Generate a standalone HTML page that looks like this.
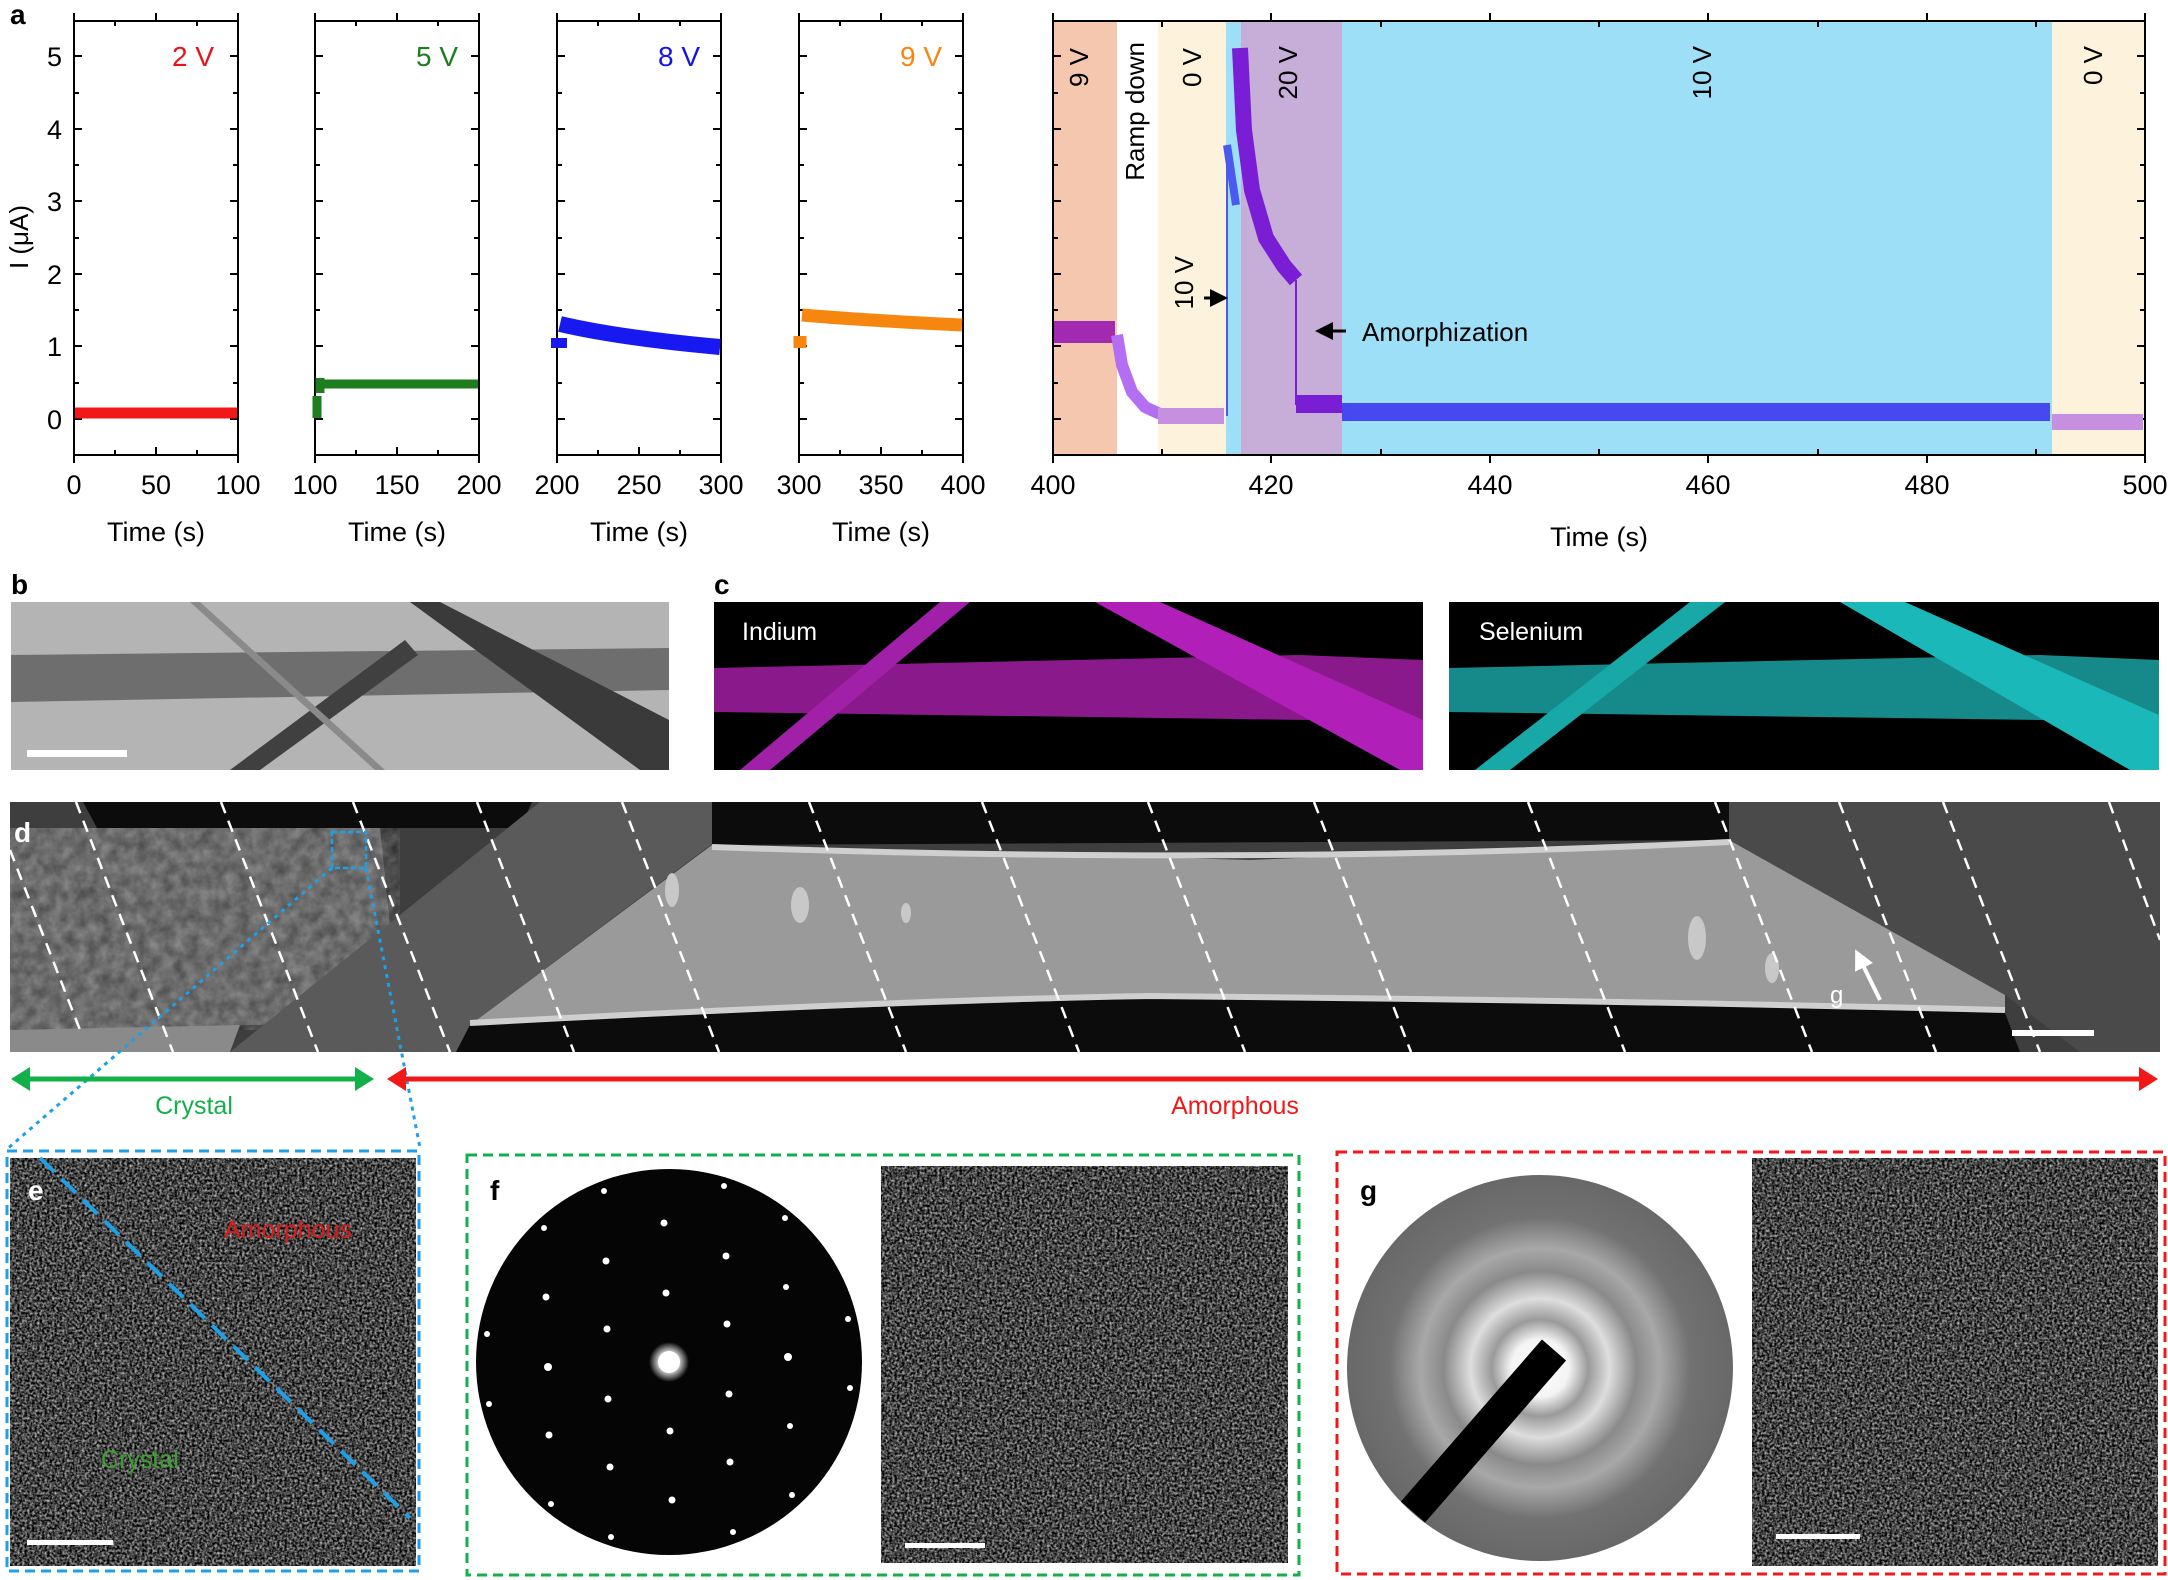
<!DOCTYPE html>
<html><head><meta charset="utf-8"><style>
html,body{margin:0;padding:0;background:#fff}
svg{display:block}
text{font-family:"Liberation Sans",Arial,sans-serif}
</style></head><body>
<svg width="2168" height="1580" viewBox="0 0 2168 1580" xmlns="http://www.w3.org/2000/svg">
<defs>
<filter id="grain" x="0" y="0" width="100%" height="100%" color-interpolation-filters="sRGB">
<feTurbulence type="fractalNoise" baseFrequency="0.4" numOctaves="2" seed="3"/>
<feColorMatrix type="matrix" values="1.3 0 0 0 -0.38  1.3 0 0 0 -0.38  1.3 0 0 0 -0.38  0 0 0 0 1"/>
</filter>
<filter id="grainL" x="0" y="0" width="100%" height="100%" color-interpolation-filters="sRGB">
<feTurbulence type="fractalNoise" baseFrequency="0.08" numOctaves="3" seed="9"/>
<feColorMatrix type="matrix" values="1.2 0 0 0 -0.15  1.2 0 0 0 -0.15  1.2 0 0 0 -0.15  0 0 0 0 1"/>
</filter>
<radialGradient id="ring" cx="0.5" cy="0.5" r="0.5">
<stop offset="0" stop-color="#fff"/><stop offset="0.15" stop-color="#f4f4f4"/>
<stop offset="0.25" stop-color="#9a9a9a"/><stop offset="0.36" stop-color="#dedede"/>
<stop offset="0.5" stop-color="#8a8a8a"/><stop offset="0.62" stop-color="#a8a8a8"/>
<stop offset="0.78" stop-color="#727272"/><stop offset="1" stop-color="#686868"/>
</radialGradient>
<radialGradient id="spot" cx="0.5" cy="0.5" r="0.5">
<stop offset="0.4" stop-color="#fff"/><stop offset="1" stop-color="#fff" stop-opacity="0"/>
</radialGradient>
<marker id="ah" markerWidth="6" markerHeight="6" refX="5" refY="3" orient="auto" markerUnits="strokeWidth"><path d="M0,0 L6,3 L0,6 z" fill="#000"/></marker>
<marker id="ahw" markerWidth="5" markerHeight="5" refX="4" refY="2.5" orient="auto" markerUnits="strokeWidth"><path d="M0,0 L5,2.5 L0,5 z" fill="#fff"/></marker>
</defs>

<text x="10" y="24" font-size="28" font-weight="bold">a</text>
<text transform="translate(28,237) rotate(-90)" font-size="26" text-anchor="middle">I (μA)</text>

<g font-size="27" text-anchor="end">
<text x="62" y="429">0</text><text x="62" y="356">1</text><text x="62" y="284">2</text>
<text x="62" y="211">3</text><text x="62" y="139">4</text><text x="62" y="66">5</text>
</g>

<g stroke="#000" stroke-width="2" fill="none">
<rect x="74" y="21" width="164" height="434"/>
<rect x="315" y="21" width="164" height="434"/>
<rect x="557" y="21" width="164" height="434"/>
<rect x="799" y="21" width="164" height="434"/>
</g>
<g stroke="#000" stroke-width="2">
<path d="M74,419h8M74,346h8M74,274h8M74,201h8M74,129h8M74,56h8M238,419h-8M238,346h-8M238,274h-8M238,201h-8M238,129h-8M238,56h-8
M315,419h8M315,346h8M315,274h8M315,201h8M315,129h8M315,56h8M479,419h-8M479,346h-8M479,274h-8M479,201h-8M479,129h-8M479,56h-8
M557,419h8M557,346h8M557,274h8M557,201h8M557,129h8M557,56h8M721,419h-8M721,346h-8M721,274h-8M721,201h-8M721,129h-8M721,56h-8
M799,419h8M799,346h8M799,274h8M799,201h8M799,129h8M799,56h8M963,419h-8M963,346h-8M963,274h-8M963,201h-8M963,129h-8M963,56h-8"/>
<path d="M74,383h5M74,310h5M74,238h5M74,165h5M74,93h5M238,383h-5M238,310h-5M238,238h-5M238,165h-5M238,93h-5
M315,383h5M315,310h5M315,238h5M315,165h5M315,93h5M479,383h-5M479,310h-5M479,238h-5M479,165h-5M479,93h-5
M557,383h5M557,310h5M557,238h5M557,165h5M557,93h5M721,383h-5M721,310h-5M721,238h-5M721,165h-5M721,93h-5
M799,383h5M799,310h5M799,238h5M799,165h5M799,93h5M963,383h-5M963,310h-5M963,238h-5M963,165h-5M963,93h-5"/>
<path d="M74,455v8M115,455v-5M156,455v-8M197,455v-5M238,455v8M74,21v-8M115,21v5M156,21v-8M197,21v5M238,21v-8
M315,455v8M356,455v-5M397,455v-8M438,455v-5M479,455v8M315,21v-8M356,21v5M397,21v-8M438,21v5M479,21v-8
M557,455v8M598,455v-5M639,455v-8M680,455v-5M721,455v8M557,21v-8M598,21v5M639,21v-8M680,21v5M721,21v-8
M799,455v8M840,455v-5M881,455v-8M922,455v-5M963,455v8M799,21v-8M840,21v5M881,21v-8M922,21v5M963,21v-8"/>
</g>
<g font-size="27" text-anchor="middle">
<text x="74" y="494">0</text><text x="156" y="494">50</text><text x="238" y="494">100</text>
<text x="315" y="494">100</text><text x="397" y="494">150</text><text x="479" y="494">200</text>
<text x="557" y="494">200</text><text x="639" y="494">250</text><text x="721" y="494">300</text>
<text x="799" y="494">300</text><text x="881" y="494">350</text><text x="963" y="494">400</text>
<text x="156" y="541">Time (s)</text><text x="397" y="541">Time (s)</text>
<text x="639" y="541">Time (s)</text><text x="881" y="541">Time (s)</text>
</g>
<g font-size="28" text-anchor="end">
<text x="214" y="66" fill="#e8141c">2 V</text>
<text x="458" y="66" fill="#1e7d1e">5 V</text>
<text x="700" y="66" fill="#1414e6">8 V</text>
<text x="942" y="66" fill="#f7860f">9 V</text>
</g>
<g fill="none">
<path d="M75,413 H237" stroke="#f01818" stroke-width="11"/>
<path d="M317,418 V396 M320,393 L320,378 M320,384 H478" stroke="#1e7d1e" stroke-width="9"/>
<path d="M559,348 V338 M560,324 Q620,338 720,347" stroke="#1818f0" stroke-width="16"/>
<path d="M800,348 V336 M802,315 Q860,320 962,325" stroke="#f7860f" stroke-width="13"/>
</g>

<g>
<rect x="1054" y="22" width="63" height="432" fill="#f4c7ae"/>
<rect x="1158" y="22" width="68" height="432" fill="#fdf3dc"/>
<rect x="1226" y="22" width="15" height="432" fill="#9ddff6"/>
<rect x="1241" y="22" width="101" height="432" fill="#c6aed9"/>
<rect x="1342" y="22" width="710" height="432" fill="#9ddff6"/>
<rect x="2052" y="22" width="92" height="432" fill="#fdf3dc"/>
</g>
<g stroke="#000" stroke-width="2">
<path d="M1053,455v8M1162,455v-6M1271,455v8M1381,455v-6M1490,455v8M1599,455v-6M1708,455v8M1818,455v-6M1927,455v8M2036,455v-6M2145,455v8
M1053,21v-8M1162,21v6M1271,21v-8M1381,21v6M1490,21v-8M1599,21v6M1708,21v-8M1818,21v6M1927,21v-8M2036,21v6M2145,21v-8
M1053,419h8M1053,346h8M1053,274h8M1053,201h8M1053,129h8M1053,56h8M2145,419h-8M2145,346h-8M2145,274h-8M2145,201h-8M2145,129h-8M2145,56h-8
M1053,383h5M1053,310h5M1053,238h5M1053,165h5M1053,93h5M2145,383h-5M2145,310h-5M2145,238h-5M2145,165h-5M2145,93h-5"/>
</g>
<rect x="1053" y="21" width="1092" height="434" fill="none" stroke="#000" stroke-width="2"/>
<g font-size="27" text-anchor="middle">
<text x="1053" y="494">400</text><text x="1271" y="494">420</text><text x="1490" y="494">440</text>
<text x="1708" y="494">460</text><text x="1927" y="494">480</text><text x="2145" y="494">500</text>
<text x="1599" y="546">Time (s)</text>
</g>
<g fill="none">
<path d="M1054,332 H1115" stroke="#a22ab0" stroke-width="22"/>
<path d="M1117,335 L1122,365 L1132,392 L1145,407 L1160,414" stroke="#b36ef2" stroke-width="12"/>
<path d="M1158,416 H1224" stroke="#c68fdf" stroke-width="16"/>
<path d="M1227,416 V145" stroke="#4a5af0" stroke-width="2"/>
<path d="M1227,145 L1236,205" stroke="#4a5af0" stroke-width="8"/>
<path d="M1240,48 L1244,130 L1252,190 L1266,238 L1284,266 L1296,280" stroke="#7a1ed6" stroke-width="16"/>
<path d="M1296,280 V405" stroke="#7a1ed6" stroke-width="2"/>
<path d="M1296,404 H1342" stroke="#7a1ed6" stroke-width="18"/>
<path d="M1342,412 H2050" stroke="#4848f0" stroke-width="18"/>
<path d="M2052,422 H2143" stroke="#c68fdf" stroke-width="16"/>
</g>
<g font-size="26" fill="#000">
<text transform="translate(1088,48) rotate(-90)" text-anchor="end">9 V</text>
<text transform="translate(1144,42) rotate(-90)" text-anchor="end">Ramp down</text>
<text transform="translate(1201,48) rotate(-90)" text-anchor="end">0 V</text>
<text transform="translate(1297,46) rotate(-90)" text-anchor="end">20 V</text>
<text transform="translate(1711,46) rotate(-90)" text-anchor="end">10 V</text>
<text transform="translate(2102,46) rotate(-90)" text-anchor="end">0 V</text>
<text transform="translate(1193,256) rotate(-90)" text-anchor="end">10 V</text>
<text x="1362" y="341">Amorphization</text>
</g>
<path d="M1204,298 H1225" stroke="#000" stroke-width="3" marker-end="url(#ah)"/>
<path d="M1346,331 H1318" stroke="#000" stroke-width="3" marker-end="url(#ah)"/>

<text x="11" y="594" font-size="28" font-weight="bold">b</text>
<rect x="11" y="602" width="658" height="168" fill="#b4b4b4"/>
<polygon points="11,655 669,648 669,690 11,702" fill="#6e6e6e"/>
<polygon points="410,602 440,602 669,720 669,770 640,770" fill="#3a3a3a"/>
<polygon points="405,640 418,655 260,770 230,770" fill="#404040"/>
<polygon points="190,602 200,602 385,770 375,770" fill="#8a8a8a"/>
<rect x="27" y="750" width="100" height="7" fill="#fff"/>

<text x="714" y="594" font-size="28" font-weight="bold">c</text>
<rect x="714" y="602" width="709" height="168" fill="#000"/>
<polygon points="714,668 1300,655 1423,660 1423,720 1310,720 714,712" fill="#8a1a8c"/>
<polygon points="940,602 970,602 770,770 740,770" fill="#a020a8"/>
<polygon points="1095,602 1160,602 1423,720 1423,770 1400,770" fill="#b020b8"/>
<text x="742" y="640" font-size="25" fill="#fff">Indium</text>
<rect x="1449" y="602" width="710" height="168" fill="#000"/>
<polygon points="1449,668 2040,655 2159,660 2159,720 2040,720 1449,712" fill="#168a8a"/>
<polygon points="1690,602 1725,602 1510,770 1475,770" fill="#18a8a8"/>
<polygon points="1840,602 1905,602 2159,715 2159,770 2130,770" fill="#1ab8b8"/>
<text x="1479" y="640" font-size="25" fill="#fff">Selenium</text>

<rect x="10" y="802" width="2150" height="250" fill="#3e3e3e"/>
<polygon points="10,828 380,828 400,1022 10,1030" fill="#6a6a6a"/>
<polygon points="10,828 380,828 400,1022 10,1030" filter="url(#grainL)" opacity="0.25"/>
<polygon points="10,1030 240,1025 230,1052 10,1052" fill="#8a8a8a"/>
<polygon points="83,802 532,802 520,828 97,828" fill="#0c0c0c"/>
<polygon points="540,802 768,802 470,1025 456,1052 230,1052" fill="#5a5a5a"/>
<polygon points="712,802 1729,802 1729,840 712,845" fill="#0c0c0c"/>
<polygon points="1729,802 2160,802 2160,1052 2080,1052 2005,995 1729,840" fill="#4a4a4a"/>
<polygon points="456,1052 470,1025 719,1012 1148,998 1521,1002 2005,1013 2020,1052" fill="#0c0c0c"/>
<polygon points="712,845 1250,860 1729,840 2005,995 2005,1012 1521,1002 1148,998 719,1012 470,1025" fill="#9a9a9a"/>
<path d="M712,847 Q1250,866 1729,842" stroke="#cfcfcf" stroke-width="6" fill="none"/>
<path d="M470,1023 Q900,1000 1148,996 Q1600,1000 2005,1010" stroke="#cfcfcf" stroke-width="6" fill="none"/>
<g fill="#c8c8c8"><ellipse cx="800" cy="905" rx="9" ry="18"/><ellipse cx="906" cy="913" rx="5" ry="10"/><ellipse cx="1697" cy="938" rx="9" ry="22"/><ellipse cx="1772" cy="968" rx="7" ry="15"/><ellipse cx="672" cy="890" rx="7" ry="17"/></g>
<g stroke="#fff" stroke-width="2.5" stroke-dasharray="12,8" fill="none">
<path d="M76,802 L173,1052"/><path d="M221,802 L318,1052"/><path d="M353,802 L450,1052"/>
<path d="M477,802 L574,1052"/><path d="M622,802 L719,1052"/><path d="M809,802 L906,1052"/>
<path d="M982,802 L1079,1052"/><path d="M1148,802 L1245,1052"/><path d="M1314,802 L1411,1052"/>
<path d="M1528,802 L1625,1052"/><path d="M1715,802 L1812,1052"/><path d="M1839,802 L1936,1052"/>
<path d="M1943,802 L2040,1052"/><path d="M2109,802 L2160,940"/><path d="M10,850 L80,1030"/>
</g>
<text x="14" y="842" font-size="28" font-weight="bold" fill="#fff">d</text>
<rect x="332" y="832" width="34" height="36" fill="none" stroke="#1ea0e6" stroke-width="2.5" stroke-dasharray="5,3"/>
<path d="M1880,1000 L1857,953" stroke="#fff" stroke-width="4" marker-end="url(#ahw)"/>
<text x="1830" y="1003" font-size="24" fill="#fff">g</text>
<rect x="2012" y="1030" width="82" height="6" fill="#fff"/>

<g stroke="#1ea0e6" stroke-width="3" stroke-dasharray="4,5" fill="none">
<path d="M332,868 L6,1150"/><path d="M366,868 L420,1148"/>
</g>
<path d="M24,1079 H360" stroke="#12b04a" stroke-width="5"/>
<polygon points="11,1079 30,1067 30,1091" fill="#12b04a"/><polygon points="374,1079 355,1067 355,1091" fill="#12b04a"/>
<path d="M400,1079 H2145" stroke="#f01818" stroke-width="5"/>
<polygon points="387,1079 406,1067 406,1091" fill="#f01818"/><polygon points="2158,1079 2139,1067 2139,1091" fill="#f01818"/>
<text x="194" y="1114" font-size="25" fill="#12b04a" text-anchor="middle">Crystal</text>
<text x="1235" y="1114" font-size="25" fill="#f01818" text-anchor="middle">Amorphous</text>

<rect x="10" y="1158" width="406" height="408" filter="url(#grain)"/>
<rect x="7" y="1151" width="412" height="420" fill="none" stroke="#1ea0e6" stroke-width="3" stroke-dasharray="10,6"/>
<path d="M40,1158 L410,1518" stroke="#1ea0e6" stroke-width="4" stroke-dasharray="20,10"/>
<text x="28" y="1200" font-size="28" font-weight="bold" fill="#fff">e</text>
<text x="224" y="1238" font-size="25" fill="#e01818">Amorphous</text>
<text x="101" y="1468" font-size="25" fill="#3aa030">Crystal</text>
<rect x="27" y="1540" width="86" height="5" fill="#fff"/>

<rect x="467" y="1155" width="832" height="420" fill="none" stroke="#12b04a" stroke-width="3" stroke-dasharray="10,6"/>
<text x="490" y="1200" font-size="28" font-weight="bold">f</text>
<circle cx="669" cy="1362" r="193" fill="#050505"/>
<circle cx="669" cy="1362" r="20" fill="url(#spot)"/>
<circle cx="669" cy="1362" r="11" fill="#fff"/>
<g fill="#fff">
<circle cx="604" cy="1191" r="3"/><circle cx="724" cy="1186" r="3"/><circle cx="544" cy="1228" r="3"/><circle cx="664" cy="1223" r="3.5"/><circle cx="785" cy="1218" r="3"/>
<circle cx="606" cy="1261" r="3.5"/><circle cx="726" cy="1256" r="3.5"/><circle cx="546" cy="1297" r="3.5"/><circle cx="666" cy="1293" r="3.5"/><circle cx="786" cy="1287" r="3"/>
<circle cx="487" cy="1334" r="3"/><circle cx="607" cy="1329" r="3.5"/><circle cx="727" cy="1324" r="3.5"/><circle cx="848" cy="1319" r="3"/><circle cx="548" cy="1367" r="4"/><circle cx="788" cy="1357" r="4"/>
<circle cx="489" cy="1404" r="3"/><circle cx="608" cy="1399" r="3.5"/><circle cx="729" cy="1394" r="3.5"/><circle cx="850" cy="1388" r="3"/>
<circle cx="549" cy="1435" r="3.5"/><circle cx="670" cy="1431" r="3.5"/><circle cx="790" cy="1426" r="3"/><circle cx="610" cy="1467" r="3.5"/><circle cx="730" cy="1462" r="3.5"/>
<circle cx="551" cy="1504" r="3"/><circle cx="672" cy="1500" r="3.5"/><circle cx="792" cy="1495" r="3"/><circle cx="611" cy="1537" r="3"/><circle cx="733" cy="1532" r="3"/>
</g>
<rect x="881" y="1166" width="407" height="397" filter="url(#grain)"/>
<rect x="905" y="1543" width="80" height="5" fill="#fff"/>

<rect x="1337" y="1152" width="828" height="422" fill="none" stroke="#f01818" stroke-width="3" stroke-dasharray="10,6"/>
<text x="1360" y="1200" font-size="28" font-weight="bold">g</text>
<circle cx="1540" cy="1368" r="193" fill="url(#ring)"/>
<path d="M1554,1350 L1413,1512" stroke="#000" stroke-width="32"/>
<rect x="1752" y="1158" width="406" height="408" filter="url(#grain)"/>
<rect x="1776" y="1534" width="84" height="5" fill="#fff"/>
</svg>
</body></html>
